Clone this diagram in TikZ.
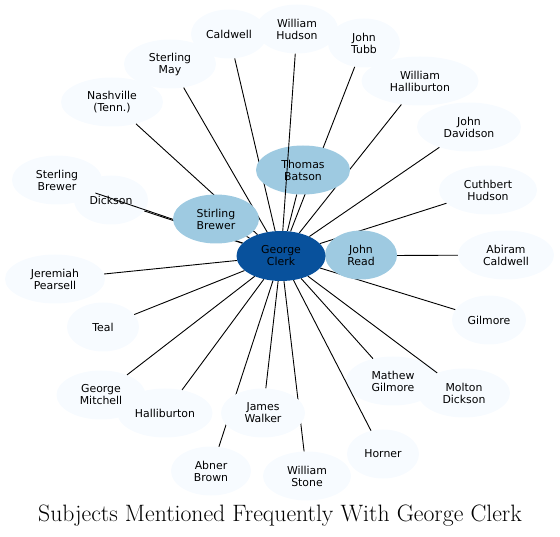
\documentclass[tikz,border=0pt]{standalone}
\usepackage{fontspec}
\newfontfamily\subjfont{DejaVu Sans}
\usetikzlibrary{shapes.geometric}
\definecolor{paleblue}{HTML}{F7FBFF}
\definecolor{midblue}{HTML}{9ECAE1}
\definecolor{deepblue}{HTML}{08519C}
\pgfdeclarelayer{outer}
\pgfdeclarelayer{links}
\pgfdeclarelayer{over}
\pgfsetlayers{outer,links,main,over}

\begin{document}
\begin{tikzpicture}[x=1pt,y=-1pt,
  subj/.style={ellipse,fill=paleblue,inner sep=0pt,minimum height=49pt,align=center,
    font=\subjfont\fontsize{10.9}{12}\selectfont},
  near/.style={subj,fill=midblue},
  focus/.style={subj,fill=deepblue,minimum height=50pt},
  link/.style={line width=0.9pt}]
\useasboundingbox (0,0) rectangle (560,537);

% outer ring of subjects
\begin{pgfonlayer}{outer}
\node (cw) [subj,minimum width=76pt] at (229,34) {Caldwell};
\node (wh) [subj,minimum width=82pt] at (297,29) {William\\Hudson};
\node (jt) [subj,minimum width=72pt] at (364,43) {John\\Tubb};
\node (whb) [subj,minimum width=117pt] at (420,81) {William\\Halliburton};
\node (jd) [subj,minimum width=104pt] at (469,127) {John\\Davidson};
\node (ch) [subj,minimum width=98pt] at (488,190) {Cuthbert\\Hudson};
\node (ac) [subj,minimum width=96pt] at (506,255) {Abiram\\Caldwell};
\node (gi) [subj,minimum width=74pt] at (489,320) {Gilmore};
\node (mg) [subj,minimum width=94pt] at (393,381) {Mathew\\Gilmore};
\node (md) [subj,minimum width=92pt] at (464,393) {Molton\\Dickson};
\node (ho) [subj,minimum width=72pt] at (383,454) {Horner};
\node (ws) [subj,minimum width=88pt] at (307,476) {William\\Stone};
\node (ab) [subj,minimum width=80pt] at (211,471) {Abner\\Brown};
\node (gm) [subj,minimum width=89pt] at (101,395) {George\\Mitchell};
\node (ha) [subj,minimum width=95pt] at (165,413) {Halliburton};
\node (te) [subj,minimum width=72pt] at (103,327) {Teal};
\node (jp) [subj,minimum width=100pt] at (55,279) {Jeremiah\\Pearsell};
\node (sbl) [subj,minimum width=90pt] at (57,180) {Sterling\\Brewer};
\node (di) [subj,minimum width=74pt] at (111,200) {Dickson};
\node (nt) [subj,minimum width=102pt] at (112,102) {Nashville\\(Tenn.)};
\node (sm) [subj,minimum width=92pt] at (170,64) {Sterling\\May};
\end{pgfonlayer}

% inner subjects and George Clerk
\node (jw) [subj,minimum width=84pt] at (263,413) {James\\Walker};
\node (tb) [near,minimum width=94pt] at (303,170) {Thomas\\Batson};
\node (sb) [near,minimum width=86pt] at (216,219) {Stirling\\Brewer};
\node (jr) [near,minimum width=72pt] at (361,255) {John\\Read};
\node (gc) [focus,minimum width=89pt] at (281,256) {George\\Clerk};

\begin{pgfonlayer}{links}
\foreach \s in {cw,jt,whb,jd,ch,ac,gi,mg,md,ho,ws,ab,gm,ha,te,jp,di,sbl,nt,sm,jw,tb,sb,jr}
  \draw[link] (gc) -- (\s);
\end{pgfonlayer}
\begin{pgfonlayer}{over}
\draw[link] (gc) -- (wh);
\end{pgfonlayer}

\node (title) at (280,516) {\fontsize{23.7}{28}\selectfont Subjects Mentioned Frequently With George Clerk};
\end{tikzpicture}
\end{document}
